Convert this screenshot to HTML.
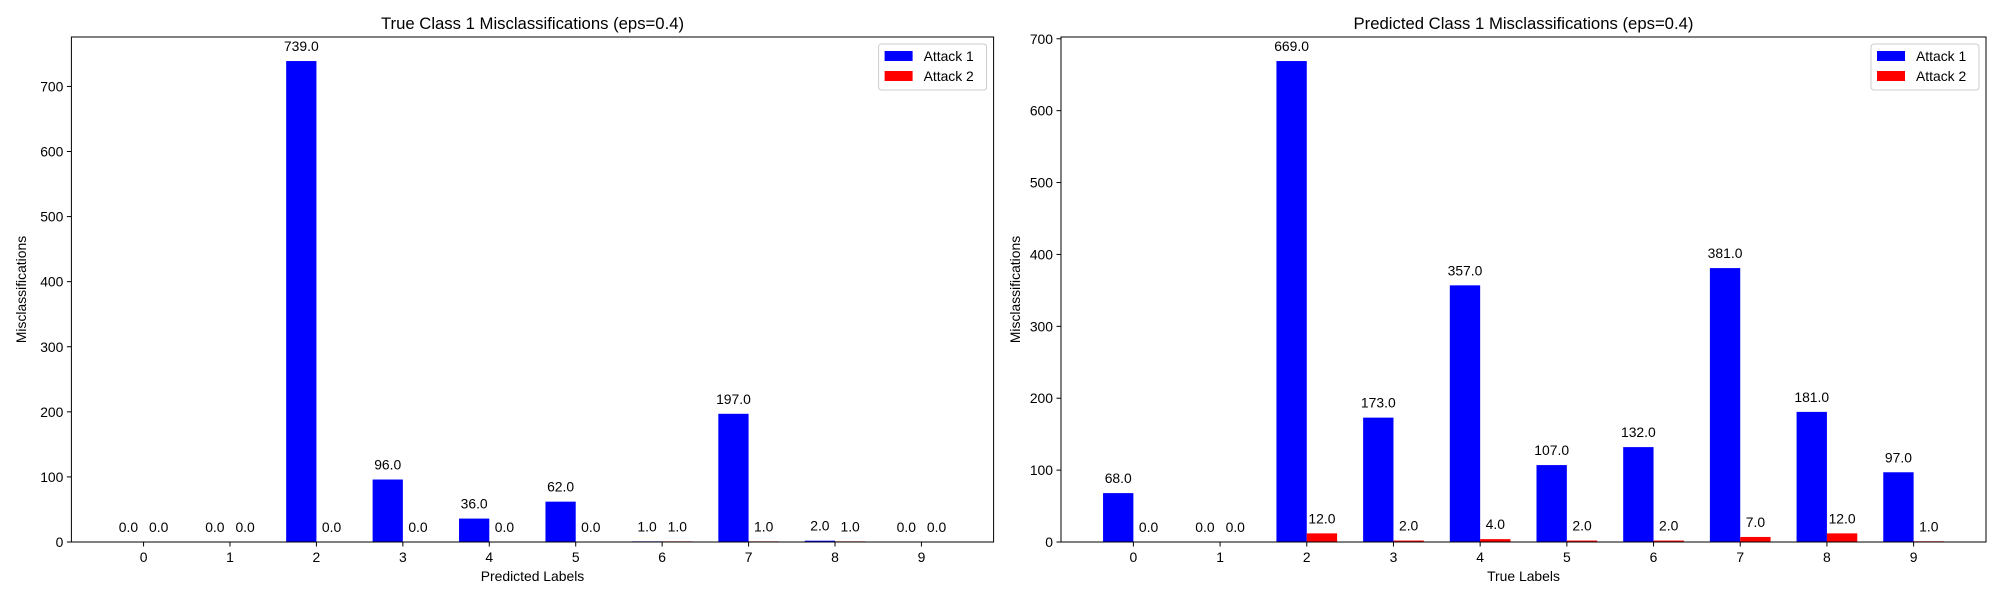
<!DOCTYPE html>
<html><head><meta charset="utf-8"><style>
html,body{margin:0;padding:0;background:#fff;}
svg{display:block;font-family:"Liberation Sans","DejaVu Sans",sans-serif;}
</style></head><body>
<svg id="chart" width="2000" height="600" viewBox="0 0 2000 600"></svg>
<script>
const categories = ["0","1","2","3","4","5","6","7","8","9"];
const leftAttack1 = [0,0,739,96,36,62,1,197,2,0];
const leftAttack2 = [0,0,0,0,0,0,1,1,1,0];
const rightAttack1 = [68,0,669,173,357,107,132,381,181,97];
const rightAttack2 = [0,0,12,2,4,2,2,7,12,1];
const leftTicks = [0,100,200,300,400,500,600,700];
const rightTicks = [0,100,200,300,400,500,600,700];
const seriesNames = ["Attack 1","Attack 2"];

const NS="http://www.w3.org/2000/svg";
const svg=document.getElementById('chart');
function mk(tag,attrs,parent,text){
  const e=document.createElementNS(NS,tag);
  for(const k in attrs) e.setAttribute(k,attrs[k]);
  if(text!==undefined) e.textContent=text;
  (parent||svg).appendChild(e);
  return e;
}
function panel(opt){
  const g=mk('g',{});
  
  
  const L=opt.x0,R=opt.x1,T=37,B=542;
  const n=categories.length,w=0.35;
  const xmin=-w-0.05*(n-1+2*w), xmax=n-1+w+0.05*(n-1+2*w);
  const ymax=Math.max(...opt.a1,...opt.a2)*1.05;
  const sx=v=>L+(v-xmin)/(xmax-xmin)*(R-L);
  const sy=v=>B-v/ymax*(B-T);
  const fs=13.9;
  [[opt.a1,-w/2,'#0000ff'],[opt.a2,w/2,'#ff0000']].forEach((s,si)=>{
    s[0].forEach((v,i)=>{
      const x=sx(i+s[1]-w/2), x2=sx(i+s[1]+w/2);
      const r=mk('rect',{x:x,y:sy(v),width:x2-x,height:B-sy(v),fill:s[2]},g);
      
      
      const t=mk('text',{x:(x+x2)/2,y:sy(v)-10,'text-anchor':'middle','font-size':fs,fill:'#000'},g,v.toFixed(1));
      
      
    });
  });
  const f=mk('rect',{x:L,y:T,width:R-L,height:B-T,fill:'none',stroke:'#000','stroke-width':1},g);
  
  
  categories.forEach((c,i)=>{
    mk('line',{x1:sx(i),x2:sx(i),y1:B,y2:B+4.5,stroke:'#000','stroke-width':1},g);
    const t=mk('text',{x:sx(i),y:B+20,'text-anchor':'middle','font-size':fs},g,c);
    
    
  });
  opt.ticks.forEach(v=>{
    mk('line',{x1:L-4.5,x2:L,y1:sy(v),y2:sy(v),stroke:'#000','stroke-width':1},g);
    const t=mk('text',{x:L-8,y:sy(v)+5,'text-anchor':'end','font-size':fs},g,String(v));
    
    
  });
  const tt=mk('text',{x:(L+R)/2,y:29,'text-anchor':'middle','font-size':16.7},g,opt.title);
  
  
  const xl=mk('text',{x:(L+R)/2,y:581,'text-anchor':'middle','font-size':fs},g,opt.xlabel);
  
  
  const yx=opt.ylx, yy=(T+B)/2;
  const yl=mk('text',{x:yx,y:yy,'text-anchor':'middle','font-size':fs,transform:`rotate(-90 ${yx} ${yy})`},g,'Misclassifications');
  
  
  const lx=R-115, ly=44;
  const lg=mk('g',{},g);
  
  
  mk('rect',{x:lx,y:ly,width:108,height:46,fill:'#fff',stroke:'#ccc','stroke-width':1,rx:3},lg);
  ['#0000ff','#ff0000'].forEach((c,i)=>{
    mk('rect',{x:lx+6,y:ly+7+i*20,width:28,height:10,fill:c},lg);
    const t=mk('text',{x:lx+45,y:ly+17+i*20,'font-size':fs},lg,seriesNames[i]);
    
    
  });
}
panel({name:'true-class-chart',x0:71.4,x1:993.6,a1:leftAttack1,a2:leftAttack2,ticks:leftTicks,title:'True Class 1 Misclassifications (eps=0.4)',xlabel:'Predicted Labels',ylx:26});
panel({name:'predicted-class-chart',x0:1061,x1:1986,a1:rightAttack1,a2:rightAttack2,ticks:rightTicks,title:'Predicted Class 1 Misclassifications (eps=0.4)',xlabel:'True Labels',ylx:1020});
</script>
</body></html>
